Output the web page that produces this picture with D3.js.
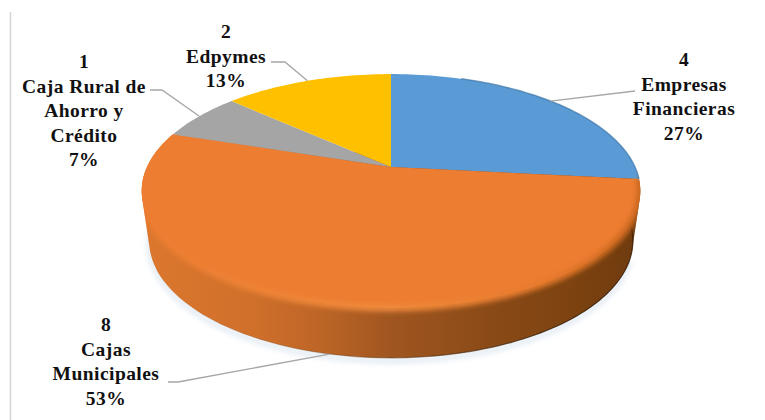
<!DOCTYPE html>
<html lang="es">
<head>
<meta charset="utf-8">
<script src="https://cdn.jsdelivr.net/npm/d3@7"></script>
<style>
  html, body { margin: 0; padding: 0; background: #fff; }
  svg { display: block; }
  text { font-family: "Liberation Serif", serif; font-weight: 700; fill: #111; }
</style>
</head>
<body>
<svg id="chart" width="765" height="420"></svg>
<script>
// Institution types and how many of each
const categories = ["Empresas Financieras", "Cajas Municipales", "Caja Rural de Ahorro y Crédito", "Edpymes"];
const counts = [4, 8, 1, 2];
const labelLines = [["Empresas", "Financieras"], ["Cajas", "Municipales"], ["Caja Rural de", "Ahorro y", "Crédito"], ["Edpymes"]];
const colors = ["#5b9bd5", "#ed7d31", "#a5a5a5", "#ffc000"];

const W = 765, H = 420;
const apex = { x: 391, y: 167 };
const depth = 50;
const baseShrink = 0.97;
const persp = { a: 244, b: 112, k: 0.205 };

// Label placement: centre x, first baseline, where the leader leaves the text
const labelLayout = [
  { x: 684, y: 66,  leader: [[635, 91]], rimDrop: 0 },
  { x: 106, y: 331, leader: [[168, 382], [178, 382]], rimDrop: depth },
  { x: 84,  y: 68,  leader: [[150, 90], [162, 90]], rimDrop: 0 },
  { x: 226, y: 38,  leader: [[271, 62], [285, 62]], rimDrop: 0 }
];
const lineHeight = 24.5;

// Perspective projection of a point on the unit disc (angle clockwise from 12 o'clock).
// A dropped point lies on the base of the solid, which sits further away and looks narrower.
function project(angle, drop = 0) {
  const u = Math.sin(angle), v = Math.cos(angle), w = 1 + persp.k * v;
  const sx = drop ? baseShrink : 1;
  return [apex.x + sx * persp.a * u / w, apex.y - persp.b * v / w + drop];
}

const svg = d3.select("#chart");
const defs = svg.append("defs");

const soft = (id, s) => defs.append("filter").attr("id", id)
  .attr("x", "-20%").attr("y", "-20%").attr("width", "140%").attr("height", "140%")
  .append("feGaussianBlur").attr("stdDeviation", s);
soft("blur1", 0.7);
soft("blur3", 2.6);

const horizontalGradient = (id, stops) => {
  const g = defs.append("linearGradient").attr("id", id)
    .attr("gradientUnits", "userSpaceOnUse").attr("x1", 141).attr("x2", 640).attr("y1", 0).attr("y2", 0);
  stops.forEach(([o, c, a]) => g.append("stop").attr("offset", o).attr("stop-color", c).attr("stop-opacity", a === undefined ? 1 : a));
};
horizontalGradient("wall", [[0, "#dc772e"], [0.22, "#d0702b"], [0.36, "#bd6527"], [0.5, "#a05620"], [0.7, "#8a4a17"], [0.88, "#7b4210"], [1, "#6e3a0e"]]);
horizontalGradient("ridge", [[0, "#ed7d31"], [0.5, "#ef8a3c"], [0.8, "#e67a2c"], [1, "#c8661f"]]);
horizontalGradient("rimLine", [[0, "#4a2a0c", 0], [0.45, "#4a2a0c", 0.35], [0.8, "#3a2008", 0.85], [1, "#3a2008", 0.9]]);

// Thin rule down the left side
svg.append("line").attr("x1", 10.5).attr("x2", 10.5).attr("y1", 12).attr("y2", H)
  .attr("stroke", "#d4d4d4").attr("stroke-width", 1.5);

const pie = d3.pie().sort(null)(counts);
const line = d3.line();
const arcPoints = (a0, a1, drop) => {
  const n = Math.max(2, Math.ceil((a1 - a0) * 40));
  return d3.range(n + 1).map(i => project(a0 + (a1 - a0) * i / n, drop));
};

// The rim is visible only along the front slice; its hull gives a smooth silhouette
const front = pie[1];
const rimTop = arcPoints(front.startAngle, front.endAngle, 0);
const rimBottom = arcPoints(front.startAngle, front.endAngle, depth);
const rimPath = line(d3.polygonHull(rimTop.concat(rimBottom))) + "Z";
const discPath = line(arcPoints(0, 2 * Math.PI, 0)) + "Z";

// Keeps the bevel inside the solid
const clip = defs.append("clipPath").attr("id", "solid");
clip.append("path").attr("d", rimPath);
clip.append("path").attr("d", discPath);

// Soft shadow on the page
svg.append("path").attr("d", line(arcPoints(front.startAngle + 0.25, front.endAngle - 0.25, depth + 3)))
  .attr("fill", "none").attr("stroke", "#d3dfec").attr("stroke-width", 6)
  .attr("opacity", 0.55).attr("filter", "url(#blur3)");

// Rim
svg.append("path").attr("d", rimPath).attr("fill", "url(#wall)");
svg.append("path").attr("d", line(rimBottom))
  .attr("fill", "none").attr("stroke", "url(#rimLine)").attr("stroke-width", 1.2);

// Top face
svg.append("g").selectAll("path").data(pie).join("path")
  .attr("d", d => line([[apex.x, apex.y]].concat(arcPoints(d.startAngle, d.endAngle, 0))) + "Z")
  .attr("fill", (d, i) => colors[i]);

// Rounded bevel where the top face meets the rim
svg.append("g").attr("clip-path", "url(#solid)")
  .append("path").attr("d", line(rimTop))
  .attr("fill", "none").attr("stroke", "url(#ridge)").attr("stroke-width", 7)
  .attr("filter", "url(#blur3)");

// Darker edge on the blue slice
svg.append("path").attr("d", line(arcPoints(pie[0].startAngle + 0.35, pie[0].endAngle, 0)))
  .attr("fill", "none").attr("stroke", "#3f76a8").attr("stroke-width", 1.5).attr("opacity", 0.7)
  .attr("filter", "url(#blur1)");

// Leader lines run from the label to the rim at the middle of the slice
const total = d3.sum(counts);
pie.forEach((d, i) => {
  const lay = labelLayout[i];
  const mid = (d.startAngle + d.endAngle) / 2;
  svg.append("path")
    .attr("d", line(lay.leader.concat([project(mid, lay.rimDrop)])))
    .attr("fill", "none").attr("stroke", "#a6a6a6").attr("stroke-width", 1.3);
});

// Labels: count, name, share
pie.forEach((d, i) => {
  const lay = labelLayout[i];
  const rows = [String(counts[i]), ...labelLines[i], Math.round(counts[i] / total * 100) + "%"];
  const t = svg.append("text").attr("text-anchor", "middle")
    .attr("font-size", 19.5).attr("letter-spacing", 0.45);
  rows.forEach((s, j) => t.append("tspan").attr("x", lay.x).attr("y", lay.y + j * lineHeight).text(s));
});
</script>
</body>
</html>
